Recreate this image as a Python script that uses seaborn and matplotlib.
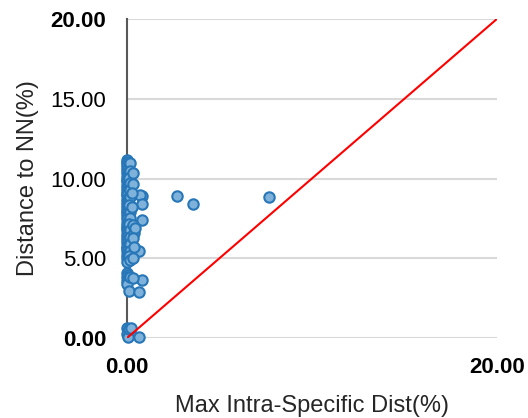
import numpy as np
import pandas as pd
import matplotlib
matplotlib.use('Agg')
import matplotlib.pyplot as plt
import seaborn as sns

# ─────────────────────────────────────────
# DATA
# ─────────────────────────────────────────
intra_dist = [
    0.00, 0.02, 0.00, 0.05, 0.00, 0.03, 0.00, 0.08, 0.00, 0.04,
    0.00, 0.06, 0.00, 0.02, 0.10, 0.00, 0.05, 0.00, 0.03, 0.00,
    0.07, 0.00, 0.02, 0.12, 0.00, 0.04, 0.00, 0.06, 0.00, 0.03,
    0.00, 0.09, 0.00, 0.02, 0.05, 0.00, 0.11, 0.00, 0.03, 0.00,
    0.06, 0.00, 0.02, 0.08, 0.00, 0.04, 0.00, 0.10, 0.00, 0.03,
    0.00, 0.05, 0.00, 0.07, 0.00, 0.02, 0.12, 0.00, 0.04, 0.00,
    0.06, 0.00, 0.03, 0.09, 0.00,
    0.14, 0.16, 0.13, 0.15, 0.17, 0.14, 0.12, 0.16, 0.18, 0.13,
    0.15, 0.17, 0.14, 0.16, 0.12, 0.18,
    0.00, 0.05, 0.00, 0.08, 0.02, 0.00, 0.10, 0.14,
    0.00, 0.06, 0.00, 0.04, 0.12,
    0.34, 0.34, 0.79, 0.72, 0.79, 0.79, 0.67, 0.34, 0.79, 0.34,
    0.65, 0.65, 0.22, 0.30, 0.40, 0.28, 0.45, 0.35, 0.25, 0.36,
    2.69, 3.55, 7.68,
]
nn_dist = [
    11.18, 11.05, 10.93, 10.85, 10.74, 10.62, 10.55, 10.41, 10.33, 10.22,
    10.10, 10.02, 9.91, 9.83, 9.70, 9.62, 9.55, 9.41, 9.33, 9.20,
    9.12, 9.01, 8.94, 8.85, 8.73, 8.66, 8.52, 8.44, 8.31, 8.25,
    8.13, 8.02, 7.95, 7.83, 7.71, 7.64, 7.52, 7.43, 7.30, 7.22,
    7.11, 7.02, 6.91, 6.83, 6.74, 6.62, 6.53, 6.42, 6.35, 6.21,
    6.13, 6.02, 5.94, 5.81, 5.73, 5.62, 5.54, 5.43, 5.32, 5.21,
    5.12, 5.03, 4.94, 4.86, 4.79,
    10.95, 10.48, 10.05, 9.72, 9.28, 8.81, 8.36, 7.92, 7.55, 7.14,
    6.76, 6.31, 5.88, 5.47, 5.15, 4.90,
    4.05, 3.92, 3.80, 3.71, 3.55, 3.40, 2.95, 3.85,
    0.62, 0.45, 0.28, 0.08, 0.55,
    10.33, 9.63, 8.92, 8.95, 8.40, 7.40, 5.45, 5.00, 3.64, 3.74,
    2.90, 0.08, 0.60, 7.10, 6.60, 8.20, 6.90, 6.30, 9.10, 5.70,
    8.92, 8.42, 8.82,
]
tick_vals = [0, 5, 10, 15, 20]
tick_labels = ['0.00', '5.00', '10.00', '15.00', '20.00']
bold_ticks = ['0.00', '20.00']

df = pd.DataFrame({'intra': intra_dist, 'nn': nn_dist})

# ─────────────────────────────────────────
# PLOT
# ─────────────────────────────────────────
sns.set_style('white')
plt.rcParams['font.family'] = ['Liberation Sans', 'DejaVu Sans']

fig = plt.figure(figsize=(5.28, 4.18), dpi=100)
ax = fig.add_axes([0.2405, 0.1914, 0.7005, 0.7631])

sns.scatterplot(data=df, x='intra', y='nn', ax=ax, s=56,
                color='#7fb2da', edgecolor='#2676b8', linewidth=1.5,
                zorder=3, legend=False)
for coll in ax.collections:
    coll.set_clip_on(False)

# 1:1 line
ax.plot([0, 20], [0, 20], color='red', lw=1.5, zorder=4)

ax.set_xlim(0, 20)
ax.set_ylim(0, 20)
ax.set_yticks(tick_vals)
ax.set_yticklabels(tick_labels)
ax.set_xticks([0, 20])
ax.set_xticklabels(['0.00', '20.00'])
for lbl in ax.get_yticklabels() + ax.get_xticklabels():
    if lbl.get_text() in bold_ticks:
        lbl.set_fontweight('bold')

ax.tick_params(axis='both', length=0, labelsize=16, colors='black')
ax.tick_params(axis='y', pad=15)
ax.tick_params(axis='x', pad=14)

ax.yaxis.grid(True, color='#d9d9d9', lw=1.5, zorder=0)
ax.xaxis.grid(False)
for side in ['top', 'right', 'bottom']:
    ax.spines[side].set_visible(False)
ax.spines['left'].set_color('#595959')
ax.spines['left'].set_linewidth(1.5)
ax.spines['left'].set_zorder(2)

ax.set_xlabel('Max Intra-Specific Dist(%)', fontsize=17, labelpad=12)
ax.set_ylabel('Distance to NN(%)', fontsize=17, labelpad=8)

fig.savefig('out.png', dpi=100)
